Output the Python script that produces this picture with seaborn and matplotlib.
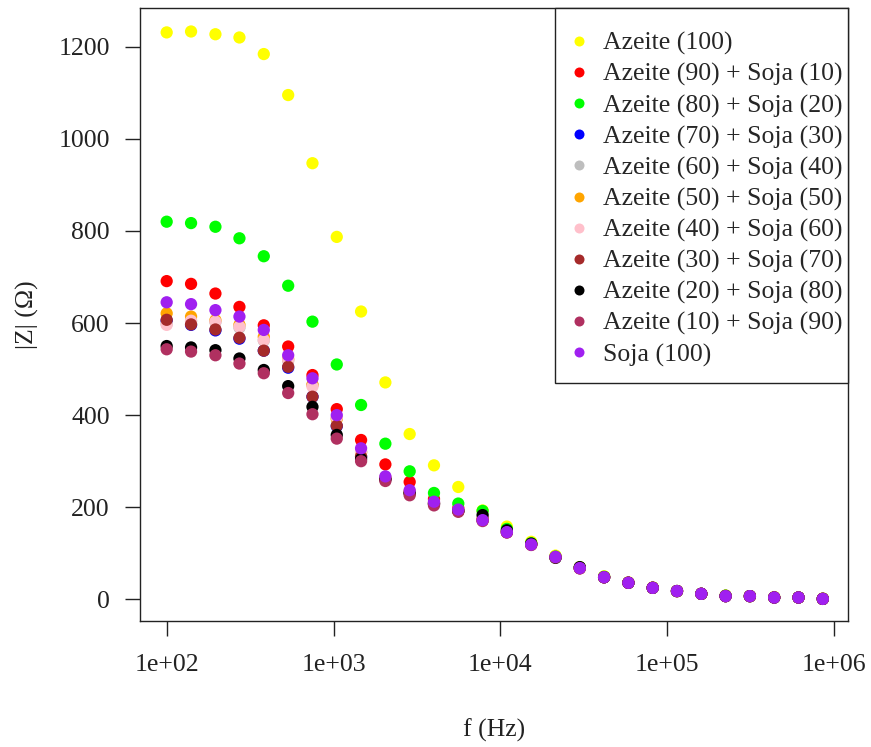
import matplotlib
matplotlib.use("Agg")
import matplotlib.pyplot as plt
from matplotlib.lines import Line2D
from matplotlib.patches import Rectangle
from matplotlib.ticker import NullLocator
import pandas as pd
import seaborn as sns

# frequencies (Hz)
freq = [100, 140, 196, 273, 382, 535, 748, 1046, 1463, 2046, 2861, 4002, 5597, 7828,
        10945, 15307, 21411, 29940, 41870, 58550, 81890, 114500, 160200, 224000,
        313200, 438000, 612600, 856600]

# |Z| (ohm) for each blend
azeite_100 = [1231, 1233, 1227, 1220, 1184, 1095, 947, 787, 625, 471, 359, 291, 244, 193,
              158, 125, 95, 70, 50, 37, 26, 18, 12, 8, 7, 5, 4, 2]
az90_so10 = [691, 685, 664, 635, 595, 549, 487, 413, 346, 293, 255, 218, 198, 175,
             148, 120, 92, 68, 48, 36, 25, 18, 12, 8, 7, 4, 4, 1]
az80_so20 = [820, 817, 809, 784, 745, 681, 603, 510, 422, 338, 278, 231, 208, 192,
             153, 122, 93, 69, 49, 36, 25, 18, 12, 8, 7, 4, 4, 1]
az70_so30 = [605, 596, 584, 566, 540, 503, 440, 376, 310, 262, 232, 208, 192, 172,
             146, 119, 92, 68, 48, 36, 25, 18, 12, 7, 7, 4, 4, 1]
az60_so40 = [598, 604, 602, 590, 562, 518, 466, 393, 320, 264, 234, 209, 193, 172,
             146, 119, 92, 68, 48, 36, 25, 18, 12, 7, 7, 4, 4, 1]
az50_so50 = [621, 614, 606, 596, 570, 522, 466, 392, 319, 264, 234, 209, 193, 172,
             146, 119, 92, 68, 48, 36, 25, 18, 12, 7, 7, 4, 4, 1]
az40_so60 = [596, 605, 603, 592, 563, 520, 462, 395, 321, 265, 234, 209, 193, 172,
             146, 119, 92, 68, 48, 36, 25, 18, 12, 7, 7, 4, 4, 1]
az30_so70 = [607, 597, 586, 568, 540, 505, 440, 377, 310, 262, 232, 208, 192, 172,
             146, 119, 92, 68, 48, 36, 25, 18, 12, 7, 7, 4, 4, 1]
az20_so80 = [550, 547, 541, 523, 498, 463, 418, 357, 305, 260, 230, 207, 192, 183,
             150, 121, 90, 70, 48, 36, 25, 18, 12, 7, 7, 4, 4, 1]
az10_so90 = [543, 538, 530, 512, 491, 448, 402, 349, 300, 257, 226, 204, 190, 170,
             145, 118, 91, 67, 48, 36, 25, 18, 12, 7, 7, 4, 4, 1]
soja_100 = [645, 641, 628, 614, 585, 530, 480, 400, 328, 267, 237, 212, 195, 172,
            146, 119, 92, 68, 48, 36, 25, 18, 12, 7, 7, 4, 4, 1]

series_names = ["Azeite (100)", "Azeite (90) + Soja (10)", "Azeite (80) + Soja (20)",
                "Azeite (70) + Soja (30)", "Azeite (60) + Soja (40)", "Azeite (50) + Soja (50)",
                "Azeite (40) + Soja (60)", "Azeite (30) + Soja (70)", "Azeite (20) + Soja (80)",
                "Azeite (10) + Soja (90)", "Soja (100)"]
series_values = [azeite_100, az90_so10, az80_so20, az70_so30, az60_so40, az50_so50,
                 az40_so60, az30_so70, az20_so80, az10_so90, soja_100]
series_colors = ["#FFFF00", "#FF0000", "#00FF00", "#0000FF", "#BEBEBE", "#FFA500",
                 "#FFC0CB", "#A52A2A", "#000000", "#B03060", "#A020F0"]

# long table, in drawing order (purple ends on top)
frames = []
for name, vals in zip(series_names, series_values):
    frames.append(pd.DataFrame({"f": freq, "Z": vals, "amostra": name}))
df = pd.concat(frames, ignore_index=True)

sns.set_style("ticks")
plt.rcParams["font.family"] = ["Liberation Serif", "DejaVu Serif"]

fig = plt.figure(figsize=(8.71, 7.47), dpi=100)
ax = fig.add_axes([140 / 871, 126 / 747, 708 / 871, 613 / 747])

sns.scatterplot(data=df, x="f", y="Z", hue="amostra", hue_order=series_names,
                palette=series_colors, s=78, linewidth=0, legend=False, ax=ax)

ax.set_xscale("log")
ax.set_xlim(69.2, 1.213e6)
ax.set_ylim(-47, 1284)
ax.set_xticks([1e2, 1e3, 1e4, 1e5, 1e6],
              labels=["1e+02", "1e+03", "1e+04", "1e+05", "1e+06"])
ax.xaxis.set_minor_locator(NullLocator())
ax.set_yticks([0, 200, 400, 600, 800, 1000, 1200])

ax.tick_params(axis="both", direction="out", length=10.8, width=1,
               labelsize=18.5, colors="#222222")
ax.tick_params(axis="x", pad=13)
ax.tick_params(axis="y", pad=11)
for sp in ax.spines.values():
    sp.set_visible(True)
    sp.set_linewidth(1)
    sp.set_color("#222222")

ax.set_xlabel("f (Hz)", fontsize=18.5, color="#222222")
ax.set_ylabel("|Z| (\u03a9)", fontsize=18.5, color="#222222")
ax.xaxis.set_label_coords(0.5, -0.16)
ax.yaxis.set_label_coords(-0.143, 0.5)

# legend box (R style, flush with the top right corner)
ax.add_patch(Rectangle((0.586, 0.388), 0.414, 0.612, transform=ax.transAxes,
                       facecolor="white", edgecolor="#222222", linewidth=1,
                       zorder=5, clip_on=False))
handles = [Line2D([], [], linestyle="none", marker="o", markersize=7.2,
                  markerfacecolor=c, markeredgewidth=0) for c in series_colors]
leg = ax.legend(handles, series_names, loc="center left",
                bbox_to_anchor=(0.602, 0.688), frameon=False, borderpad=0,
                handlelength=1.0, handletextpad=0.435, labelspacing=0.3,
                fontsize=18.5, borderaxespad=0)
leg.set_zorder(6)

fig.savefig("out.png", dpi=100)
